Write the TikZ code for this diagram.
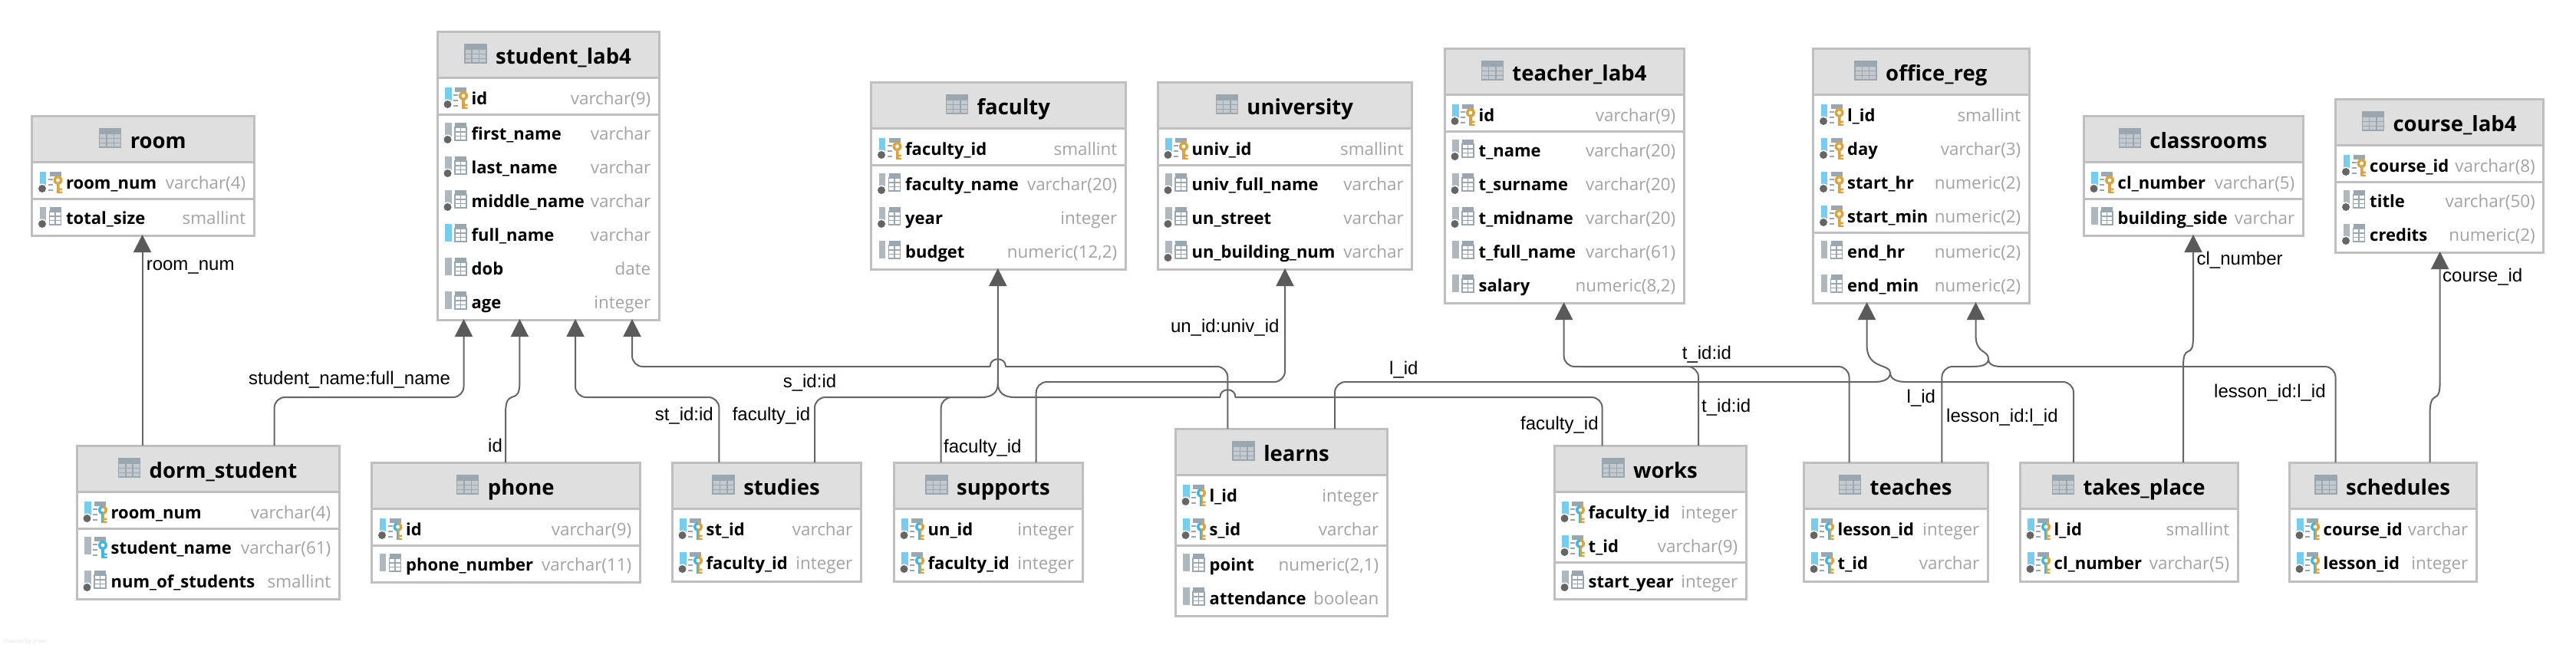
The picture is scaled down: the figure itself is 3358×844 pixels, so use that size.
\documentclass[tikz,border=0pt]{standalone}
\usepackage{fontspec}
\setmainfont{Open Sans}
\newfontfamily\lblfont{Liberation Sans}
\usetikzlibrary{arrows.meta,calc}
\definecolor{bordc}{HTML}{BFBFBF}
\definecolor{hdrc}{HTML}{DFDFDF}
\definecolor{typec}{HTML}{A3A3A3}
\definecolor{linec}{HTML}{666666}
\definecolor{tipc}{HTML}{5A5A5A}
\definecolor{barg}{HTML}{AFB8BF}
\definecolor{barb}{HTML}{76CDEE}
\definecolor{gridc}{HTML}{9AA7B0}
\definecolor{dotc}{HTML}{656565}
\definecolor{keyg}{HTML}{D9A343}
\definecolor{keyb}{HTML}{40B6E0}
\tikzset{
  tblbox/.style={draw=bordc,line width=3pt,fill=white,rectangle,inner sep=0pt,outer sep=0pt,anchor=north west},
  titletxt/.style={inner sep=0pt,anchor=base,font=\fontsize{27.5}{30}\selectfont\bfseries},
  coltxt/.style={inner sep=0pt,anchor=base west,font=\fontsize{22}{24}\selectfont\bfseries},
  typetxt/.style={inner sep=0pt,anchor=base east,text=typec,font=\fontsize{22.4}{24}\selectfont},
  lbl/.style={inner sep=0pt,anchor=base west,font=\fontsize{24}{26}\selectfont\lblfont},
  fk/.style={draw=linec,line width=2pt,rounded corners=14pt},
  fkbump/.style={draw=linec,line width=2pt,sharp corners,line cap=round},
  fkarrow/.style={fk,shorten >=-1pt,-{Triangle[length=23pt,width=23pt,color=tipc]}},
}
\newcounter{rowc}
\newcommand\KeyIcon[2]{%
  \fill[#1] (34,-9) arc (-90:-270:6) -- cycle;
  \fill[#2] (34,-9) arc (-90:90:6) -- cycle;
  \fill[#1] (32,2) rectangle (34,14);
  \fill[#2] (34,2) rectangle (36,14) (36,7.5) rectangle (39.5,10) (36,11.5) rectangle (39.5,14);
  \fill[white] (34,-3) circle (2.4);
}
\newcommand\IBar[1]{\fill[#1] (10,-14) rectangle (18.5,9);}
\newcommand\IDot{\fill[white] (13.5,8) circle (6.5); \fill[dotc] (13.5,8) circle (5);}
\newcommand\IGrid{%
  \fill[gridc] (23,-14) rectangle (38,-8);
  \draw[gridc,line width=1.4pt] (23,-8) rectangle (38,9) (30.5,-8) -- (30.5,9) (23,-2) -- (38,-2) (23,3.5) -- (38,3.5);
}
\newcommand\IDash{%
  \fill[gridc] (23,-14) rectangle (38,-8);
  \draw[gridc,line width=1.6pt] (21,-4) -- (27,-4) (21,3) -- (27,3) (21,10) -- (27,10);
}
\newcommand\iconk{\IBar{barb}\IDash\IDot\KeyIcon{keyg}{keyg}}
\newcommand\iconb{\IBar{barb}\IDash\IDot\KeyIcon{keyb}{keyg}}
\newcommand\iconf{\IBar{barg}\IDash\KeyIcon{keyb}{keyb}}
\newcommand\iconn{\IBar{barg}\IGrid\IDot}
\newcommand\icono{\IBar{barg}\IGrid}
\newcommand\iconu{\IBar{barb}\IGrid}
\newcommand\Tbl[6]{% id x0 x1 T H title
  \def\tid{#1}\def\tx{#2}\def\txr{#3}
  \pgfmathsetmacro\tw{#3-#2}
  \pgfmathsetmacro\cy{#4+87}
  \node[tblbox,minimum width=\tw pt,minimum height=#5 pt] (#1) at (#2,#4) {};
  \fill[hdrc] (#2+1.5,#4+1.5) rectangle (#3-1.5,#4+60);
  \draw[bordc,line width=3pt] (#2,#4+60) -- (#3,#4+60);
  \pgfmathsetmacro\tcx{(#2+#3)/2+20}
  \node[titletxt] (#1-title) at (\tcx,#4+42) {#6};
  \coordinate (#1-ic) at (#1-title.base west |- 0,#4);
  \begin{scope}[shift={(#1-ic)}]
    \fill[hdrc!60!gridc] (-40,17) rectangle (-12,41);
    \draw[gridc,line width=1.5pt] (-40,17) rectangle (-12,41) (-30.7,17) -- (-30.7,41) (-21.3,17) -- (-21.3,41) (-40,29.5) -- (-12,29.5) (-40,35.5) -- (-12,35.5);
    \fill[gridc] (-40,17) rectangle (-12,24);
  \end{scope}
}
\newcommand\Row[3]{%
  \stepcounter{rowc}
  \begin{scope}[shift={(\tx,\cy)}]
    \csname icon#1\endcsname
  \end{scope}
  \node[coltxt] (\tid-n\therowc) at (\tx+44.5,\cy+8) {#2};
  \node[typetxt] (\tid-t\therowc) at (\txr-10.5,\cy+8) {#3};
  \pgfmathsetmacro\cy{\cy+44}
}
\newcommand\Sep{%
  \draw[bordc,line width=3pt] (\tx,\cy-23) -- (\txr,\cy-23);
  \pgfmathsetmacro\cy{\cy+2}
}
\begin{document}
\begin{tikzpicture}[x=1pt,y=-1pt]
\useasboundingbox (0,0) rectangle (3358,844);

\Tbl{room}{41.5}{331}{151}{156}{room}
\Row{k}{room\_num}{varchar(4)}\Sep
\Row{n}{total\_size}{smallint}

\Tbl{student}{570}{859}{41}{376}{student\_lab4}
\Row{k}{id}{varchar(9)}\Sep
\Row{n}{first\_name}{varchar}
\Row{n}{last\_name}{varchar}
\Row{n}{middle\_name}{varchar}
\Row{u}{full\_name}{varchar}
\Row{o}{dob}{date}
\Row{o}{age}{integer}

\Tbl{dorm}{100}{442}{581}{200}{dorm\_student}
\Row{b}{room\_num}{varchar(4)}\Sep
\Row{f}{student\_name}{varchar(61)}
\Row{n}{num\_of\_students}{smallint}

\Tbl{phone}{484.5}{834}{603}{156}{phone}
\Row{b}{id}{varchar(9)}\Sep
\Row{o}{phone\_number}{varchar(11)}

\Tbl{studies}{876}{1122}{603}{155}{studies}
\Row{b}{st\_id}{varchar}
\Row{b}{faculty\_id}{integer}

\Tbl{supports}{1165}{1411}{603}{155}{supports}
\Row{b}{un\_id}{integer}
\Row{b}{faculty\_id}{integer}

\Tbl{learns}{1532}{1808}{559}{244}{learns}
\Row{b}{l\_id}{integer}
\Row{b}{s\_id}{varchar}\Sep
\Row{o}{point}{numeric(2,1)}
\Row{o}{attendance}{boolean}

\Tbl{works}{2026}{2276}{581}{200}{works}
\Row{b}{faculty\_id}{integer}
\Row{b}{t\_id}{varchar(9)}\Sep
\Row{n}{start\_year}{integer}

\Tbl{teaches}{2351}{2591}{603}{155}{teaches}
\Row{b}{lesson\_id}{integer}
\Row{b}{t\_id}{varchar}

\Tbl{takes}{2633}{2917}{603}{155}{takes\_place}
\Row{b}{l\_id}{smallint}
\Row{b}{cl\_number}{varchar(5)}

\Tbl{schedules}{2984}{3228}{603}{155}{schedules}
\Row{b}{course\_id}{varchar}
\Row{b}{lesson\_id}{integer}

\Tbl{faculty}{1135.5}{1467}{107}{244}{faculty}
\Row{k}{faculty\_id}{smallint}\Sep
\Row{n}{faculty\_name}{varchar(20)}
\Row{n}{year}{integer}
\Row{o}{budget}{numeric(12,2)}

\Tbl{university}{1509}{1840.5}{107}{244}{university}
\Row{k}{univ\_id}{smallint}\Sep
\Row{n}{univ\_full\_name}{varchar}
\Row{n}{un\_street}{varchar}
\Row{n}{un\_building\_num}{varchar}

\Tbl{teacher}{1883}{2195}{63}{332}{teacher\_lab4}
\Row{k}{id}{varchar(9)}\Sep
\Row{n}{t\_name}{varchar(20)}
\Row{n}{t\_surname}{varchar(20)}
\Row{n}{t\_midname}{varchar(20)}
\Row{o}{t\_full\_name}{varchar(61)}
\Row{o}{salary}{numeric(8,2)}

\Tbl{office}{2363.5}{2645}{63}{332}{office\_reg}
\Row{k}{l\_id}{smallint}
\Row{k}{day}{varchar(3)}
\Row{k}{start\_hr}{numeric(2)}
\Row{k}{start\_min}{numeric(2)}\Sep
\Row{o}{end\_hr}{numeric(2)}
\Row{o}{end\_min}{numeric(2)}

\Tbl{classrooms}{2716}{3002}{151}{156}{classrooms}
\Row{k}{cl\_number}{varchar(5)}\Sep
\Row{o}{building\_side}{varchar}

\Tbl{course}{3044.5}{3315.5}{129}{200}{course\_lab4}
\Row{k}{course\_id}{varchar(8)}\Sep
\Row{n}{title}{varchar(50)}
\Row{n}{credits}{numeric(2)}

% rails
\coordinate (railA) at (0,518);
\coordinate (railB) at (0,498);
\coordinate (railC) at (0,478);

% connectors
\draw[fkarrow] (185.5,0 |- dorm.north) -- (185.5,0 |- room.south);
\draw[fkarrow] (357.6,0 |- dorm.north) -- (357.6,0 |- railA) -- (604.5,0 |- railA) -- (604.5,0 |- student.south);
\draw[fkarrow,sharp corners] (659,0 |- phone.north) -- (659,540) .. controls (659,526) and (661,520) .. (667,518) .. controls (674,516) and (677.4,514) .. (677.4,498) -- (677.4,0 |- student.south);
\draw[fkarrow] (937.4,0 |- studies.north) -- (937.4,0 |- railA) -- (750,0 |- railA) -- (750,0 |- student.south);
% learns s_id -> student, hopping over the faculty line
\draw[fk] (1600.4,0 |- learns.north) -- (1600.4,0 |- railC) -- (1311,0 |- railC);
\draw[fkbump] (1311,0 |- railC) .. controls (1311,465) and (1290.6,465) .. (1290.6,0 |- railC);
\draw[fkarrow] (1290.6,0 |- railC) -- (824,0 |- railC) -- (824,0 |- student.south);
% studies / supports / works -> faculty
\draw[fk] (1062,0 |- studies.north) -- (1062,0 |- railA) -- (1280,0 |- railA);
\draw[fkarrow,sharp corners] (1280,0 |- railA) .. controls (1293,518) and (1300.8,512) .. (1300.8,500) -- (1300.8,0 |- faculty.south);
\draw[fk] (1226.7,0 |- supports.north) -- (1226.7,0 |- railA) -- (1285,0 |- railA);
\draw[fk] (2088.6,0 |- works.north) -- (2088.6,0 |- railA) -- (1610.5,0 |- railA);
\draw[fkbump] (1610.5,0 |- railA) .. controls (1610.5,505) and (1590.3,505) .. (1590.3,0 |- railA) -- (1322,0 |- railA) .. controls (1309,518) and (1300.8,512) .. (1300.8,500);
\draw[fkarrow] (1350.7,0 |- supports.north) -- (1350.7,0 |- railB) -- (1675,0 |- railB) -- (1675,0 |- university.south);
% learns / takes_place -> office_reg
\draw[fk] (1740,0 |- learns.north) -- (1740,0 |- railB) -- (2444,0 |- railB);
\draw[fkarrow,sharp corners] (2444,0 |- railB) .. controls (2456,498) and (2464,494) .. (2464,486) .. controls (2464,474) and (2433.5,482) .. (2433.5,450) -- (2433.5,0 |- office.south);
\draw[fk] (2703,0 |- takes.north) -- (2703,0 |- railB) -- (2484,0 |- railB);
\draw[fkbump] (2484,0 |- railB) .. controls (2472,498) and (2464,494) .. (2464,486);
% teaches / schedules -> office_reg
\draw[fk] (2531.4,0 |- teaches.north) -- (2531.4,0 |- railC) -- (2571,0 |- railC);
\draw[fkarrow,sharp corners] (2571,0 |- railC) .. controls (2583,478) and (2592,476) .. (2592,468) .. controls (2592,456) and (2575.5,462) .. (2575.5,437) -- (2575.5,0 |- office.south);
\draw[fk] (3044.5,0 |- schedules.north) -- (3044.5,0 |- railC) -- (2609,0 |- railC);
\draw[fkbump] (2609,0 |- railC) .. controls (2600,478) and (2592,476) .. (2592,468);
% works / teaches -> teacher_lab4
\draw[fkarrow] (2214,0 |- works.north) -- (2214,0 |- railC) -- (2038.6,0 |- railC) -- (2038.6,0 |- teacher.south);
\draw[fk] (2410.5,0 |- teaches.north) -- (2410.5,0 |- railC) -- (2060,0 |- railC);
\draw[fkarrow,sharp corners] (2846,0 |- takes.north) -- (2846,478) .. controls (2846,464) and (2848,460) .. (2852,458.5) .. controls (2857,456.5) and (2859,454) .. (2859,438) -- (2859,0 |- classrooms.south);
\draw[fkarrow,sharp corners] (3167.5,0 |- schedules.north) -- (3167.5,540) .. controls (3167.5,526) and (3169.5,520) .. (3174,518) .. controls (3179,516) and (3180.6,512) .. (3180.6,497) -- (3180.6,0 |- course.south);

% labels
\node[lbl] (l1) at (190.6,352) {room\_num};
\node[lbl] (l2) at (324,501.7) {student\_name:full\_name};
\node[lbl] (l3) at (636,589) {id};
\node[lbl] (l4) at (853.6,548) {st\_id:id};
\node[lbl] (l5) at (1020.6,505) {s\_id:id};
\node[lbl] (l6) at (954.6,548) {faculty\_id};
\node[lbl] (l7) at (1230,590) {faculty\_id};
\node[lbl] (l8) at (1982,560) {faculty\_id};
\node[lbl] (l9) at (1525.8,433) {un\_id:univ\_id};
\node[lbl] (l10) at (1811,488) {l\_id};
\node[lbl] (l11) at (2485.5,525) {l\_id};
\node[lbl] (l12) at (2537,550) {lesson\_id:l\_id};
\node[lbl] (l13) at (2886,518) {lesson\_id:l\_id};
\node[lbl] (l14) at (2218,537) {t\_id:id};
\node[lbl] (l15) at (2192.6,468) {t\_id:id};
\node[lbl] (l16) at (2863.4,345) {cl\_number};
\node[lbl] (l17) at (3184,367) {course\_id};
\node[inner sep=0pt,anchor=base west,text=black!12,font=\fontsize{6.6}{8}\selectfont] (yf) at (5,838) {Powered by yFiles};
\end{tikzpicture}
\end{document}
